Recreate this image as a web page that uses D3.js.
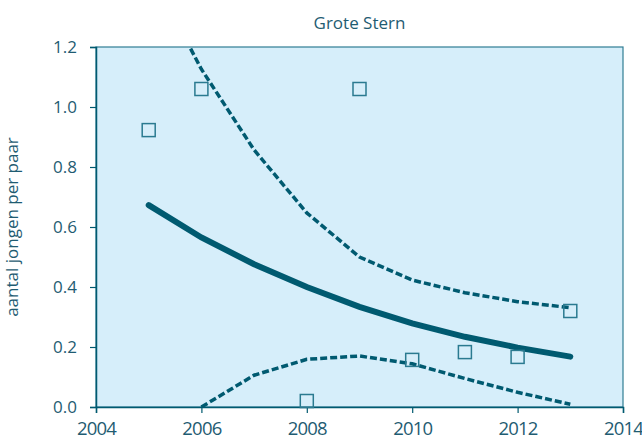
<!DOCTYPE html>
<html>
<head>
<meta charset="utf-8">
<script src="https://cdn.jsdelivr.net/npm/d3@7"></script>
<style>
  body { margin: 0; background: #fff; }
  text { font-family: "Open Sans", "Noto Sans", sans-serif; fill: #1f5c72; }
</style>
</head>
<body>
<div id="chart"></div>
<script>
// data
var years = [2005, 2006, 2007, 2008, 2009, 2010, 2011, 2012, 2013];
var obsYears = [2005, 2006, 2008, 2009, 2010, 2011, 2012, 2013];
var observed = [0.923, 1.06, 0.02, 1.06, 0.157, 0.183, 0.167, 0.32];
var trend = [0.673, 0.565, 0.476, 0.40, 0.334, 0.279, 0.234, 0.198, 0.168];
var upper = [1.46, 1.126, 0.857, 0.647, 0.50, 0.423, 0.381, 0.351, 0.331];
var lowerYears = [2006, 2007, 2008, 2009, 2010, 2011, 2012, 2013];
var lower = [0.0, 0.106, 0.159, 0.17, 0.144, 0.095, 0.049, 0.009];
var xTicks = [2004, 2006, 2008, 2010, 2012, 2014];
var yTicks = [0.0, 0.2, 0.4, 0.6, 0.8, 1.0, 1.2];

var margin = {top: 47, right: 19, bottom: 34, left: 96},
    width = 642 - margin.left - margin.right,
    height = 441 - margin.top - margin.bottom;

var dark = "#005a70";

var svg = d3.select("#chart").append("svg")
    .attr("width", 642)
    .attr("height", 441)
  .append("g")
    .attr("transform", "translate(" + margin.left + "," + margin.top + ")");

var x = d3.scaleLinear().domain([2004, 2014]).range([0, width]);
var y = d3.scaleLinear().domain([0, 1.2]).range([height, 0]);

svg.append("defs").append("clipPath").attr("id", "clip")
  .append("rect").attr("width", width).attr("height", height);

// plot background
svg.append("rect")
    .attr("width", width)
    .attr("height", height)
    .style("fill", "#d6eefa")
    .style("stroke", "#2f7d93")
    .style("stroke-width", 1.2);

// axes
var xAxis = svg.append("g")
    .attr("transform", "translate(0," + height + ")")
    .call(d3.axisBottom(x).tickValues(xTicks).tickSize(6).tickPadding(9).tickFormat(d3.format("d")));
var yAxis = svg.append("g")
    .call(d3.axisLeft(y).tickValues(yTicks).tickSize(6).tickPadding(13).tickFormat(d3.format(".1f")));

[xAxis, yAxis].forEach(function(a) {
  a.selectAll("path").style("stroke", dark).style("stroke-width", 1.5);
  a.selectAll("line").style("stroke", dark).style("stroke-width", 1.2);
  a.selectAll("text").style("fill", "#1f5c72");
});
xAxis.selectAll("text").style("font-size", "18.5px").style("letter-spacing", "-0.8px");
yAxis.selectAll("text").style("font-size", "17px");

var plot = svg.append("g").attr("clip-path", "url(#clip)");

var line = d3.line()
    .x(function(d) { return x(d[0]); })
    .y(function(d) { return y(d[1]); });

plot.append("path")
    .datum(d3.zip(years, upper))
    .attr("d", line)
    .style("fill", "none")
    .style("stroke", dark)
    .style("stroke-width", 3.5)
    .style("stroke-dasharray", "7,3");

plot.append("path")
    .datum(d3.zip(lowerYears, lower))
    .attr("d", line)
    .style("fill", "none")
    .style("stroke", dark)
    .style("stroke-width", 3.5)
    .style("stroke-dasharray", "7,3");

plot.append("path")
    .datum(d3.zip(years, trend))
    .attr("d", line)
    .style("fill", "none")
    .style("stroke", dark)
    .style("stroke-width", 6)
    .style("stroke-linecap", "round");

// observed points
svg.selectAll(".pt")
    .data(d3.zip(obsYears, observed))
    .enter().append("rect")
    .attr("class", "pt")
    .attr("x", function(d) { return x(d[0]) - 6.5; })
    .attr("y", function(d) { return y(d[1]) - 6.5; })
    .attr("width", 13)
    .attr("height", 13)
    .style("fill", "none")
    .style("stroke", "#2a7a90")
    .style("stroke-width", 1.5);

// title
svg.append("text")
    .attr("x", width / 2)
    .attr("y", -18)
    .attr("text-anchor", "middle")
    .style("font-size", "17px")
    .text("Grote Stern");

// y label
svg.append("text")
    .attr("transform", "rotate(-90)")
    .attr("x", -height / 2)
    .attr("y", -78)
    .attr("text-anchor", "middle")
    .style("font-size", "17px")
    .text("aantal jongen per paar");
</script>
</body>
</html>
